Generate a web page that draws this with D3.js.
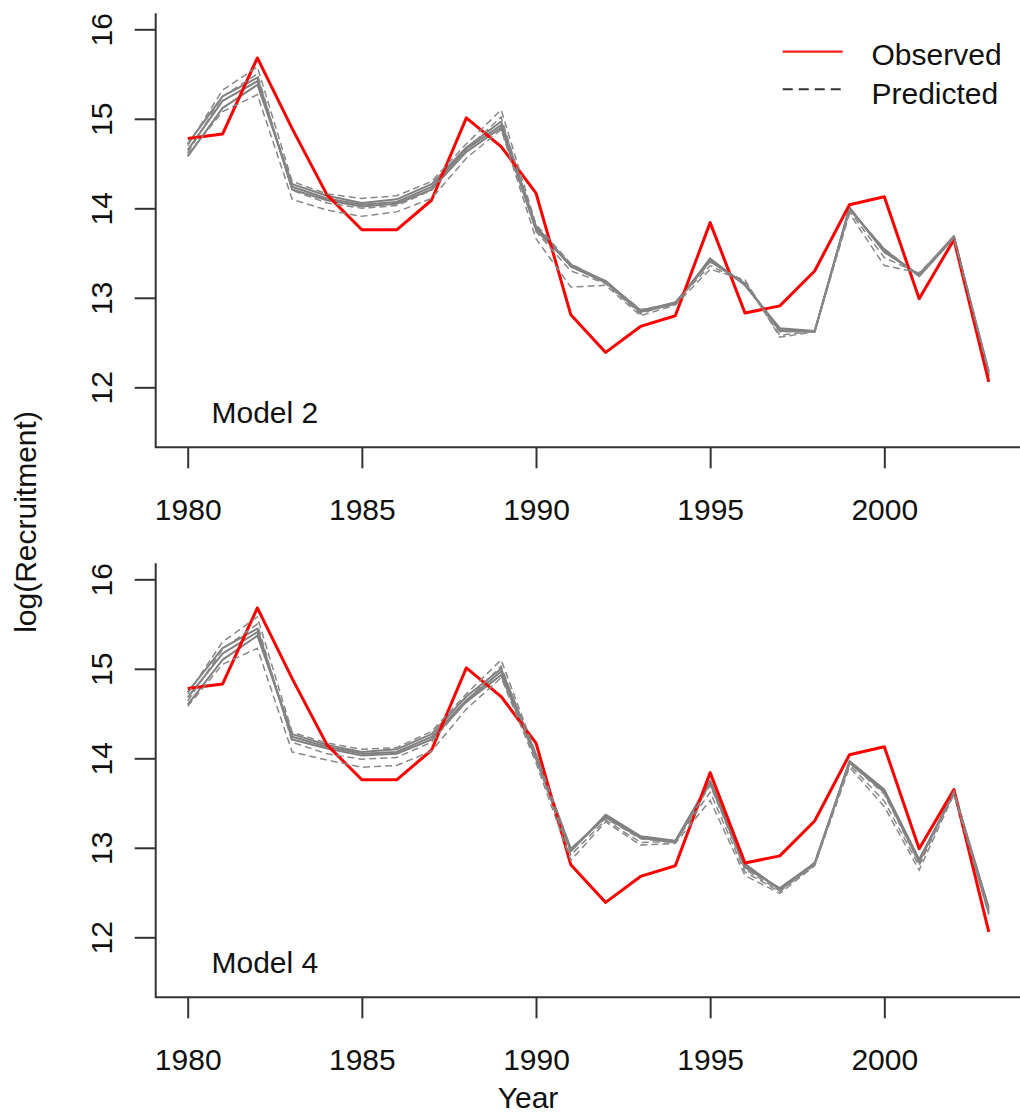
<!DOCTYPE html>
<html>
<head>
<meta charset="utf-8">
<script src="https://cdn.jsdelivr.net/npm/d3@7"></script>
<style>
  html, body { margin: 0; padding: 0; background: #fff; }
  svg { display: block; }
  text { font-family: "Liberation Sans", Arial, sans-serif; fill: #111; }
</style>
</head>
<body>
<svg id="chart" width="1020" height="1116"></svg>
<script>
// Years of recruitment and axis ticks
const years = d3.range(1980, 2004);
const xTickValues = [1980, 1985, 1990, 1995, 2000];
const yTickValues = [12, 13, 14, 15, 16];

// Observed log(recruitment)
const observed = [14.78, 14.83, 15.68, 14.89, 14.15, 13.76, 13.76, 14.09, 15.01, 14.69, 14.17, 12.81,
                  12.39, 12.68, 12.80, 13.84, 12.83, 12.91, 13.30, 14.04, 14.13, 12.99, 13.65, 12.06];

// Model 2 predictions (solid runs)
const model2SolidA = [14.65, 15.20, 15.42, 14.24, 14.11, 14.04, 14.07, 14.24, 14.66, 14.93, 13.78, 13.37,
                      13.18, 12.86, 12.94, 13.42, 13.16, 12.64, 12.62, 14.00, 13.52, 13.25, 13.68, 12.14];
const model2SolidB = [14.58, 15.12, 15.38, 14.27, 14.14, 14.06, 14.10, 14.27, 14.68, 14.97, 13.80, 13.35,
                      13.17, 12.84, 12.93, 13.44, 13.14, 12.66, 12.63, 13.99, 13.54, 13.24, 13.67, 12.18];
const model2SolidC = [14.72, 15.25, 15.46, 14.21, 14.09, 14.02, 14.05, 14.21, 14.63, 14.90, 13.76, 13.36,
                      13.19, 12.85, 12.95, 13.41, 13.15, 12.63, 12.62, 14.01, 13.51, 13.26, 13.69, 12.12];
// Model 2 predictions (dashed runs)
const model2DashD = [14.70, 15.32, 15.58, 14.30, 14.16, 14.11, 14.14, 14.30, 14.72, 15.10, 13.82, 13.38,
                     13.18, 12.87, 12.93, 13.40, 13.18, 12.62, 12.63, 13.99, 13.55, 13.24, 13.68, 12.15];
const model2DashE = [14.60, 15.08, 15.27, 14.10, 13.98, 13.91, 13.96, 14.11, 14.56, 14.88, 13.66, 13.12,
                     13.14, 12.80, 12.92, 13.32, 13.20, 12.56, 12.62, 13.94, 13.36, 13.28, 13.66, 12.16];
const model2DashF = [14.62, 15.25, 15.50, 14.20, 14.06, 14.00, 14.03, 14.20, 14.66, 15.02, 13.74, 13.30,
                     13.16, 12.82, 12.95, 13.36, 13.17, 12.58, 12.63, 13.97, 13.45, 13.27, 13.67, 12.18];

// Model 4 predictions (solid runs)
const model4SolidA = [14.68, 15.17, 15.41, 14.24, 14.13, 14.05, 14.07, 14.24, 14.65, 14.97, 14.02, 12.97,
                      13.36, 13.12, 13.07, 13.74, 12.80, 12.54, 12.82, 13.96, 13.64, 12.86, 13.62, 12.30];
const model4SolidB = [14.60, 15.10, 15.37, 14.27, 14.15, 14.07, 14.10, 14.27, 14.69, 15.00, 14.04, 12.99,
                      13.34, 13.11, 13.06, 13.72, 12.78, 12.55, 12.83, 13.95, 13.62, 12.84, 13.63, 12.33];
const model4SolidC = [14.74, 15.23, 15.45, 14.21, 14.11, 14.03, 14.05, 14.21, 14.63, 14.93, 14.00, 12.96,
                      13.37, 13.13, 13.08, 13.75, 12.82, 12.53, 12.81, 13.97, 13.65, 12.87, 13.61, 12.27];
// Model 4 predictions (dashed runs)
const model4DashD = [14.72, 15.30, 15.58, 14.29, 14.17, 14.10, 14.12, 14.30, 14.72, 15.10, 14.05, 12.98,
                     13.33, 13.10, 13.06, 13.70, 12.76, 12.52, 12.84, 13.95, 13.60, 12.83, 13.63, 12.32];
const model4DashE = [14.58, 15.05, 15.23, 14.07, 13.98, 13.90, 13.92, 14.08, 14.55, 14.90, 13.95, 12.86,
                     13.29, 13.03, 13.05, 13.53, 12.69, 12.49, 12.80, 13.90, 13.46, 12.75, 13.60, 12.25];
const model4DashF = [14.64, 15.22, 15.50, 14.18, 14.05, 13.99, 14.01, 14.18, 14.64, 15.03, 13.99, 12.92,
                     13.31, 13.06, 13.07, 13.62, 12.73, 12.51, 12.82, 13.93, 13.52, 12.80, 13.62, 12.28];

const panels = [
  { label: "Model 2", solid: [model2SolidA, model2SolidB, model2SolidC], dashed: [model2DashD, model2DashE, model2DashF] },
  { label: "Model 4", solid: [model4SolidA, model4SolidB, model4SolidC], dashed: [model4DashD, model4DashE, model4DashF] }
];

const svg = d3.select("#chart");
const frameLeft = 155.7, frameRight = 1020;
const panelTop = [13.3, 563.3], panelBottom = [447.3, 997.3];
const x = d3.scaleLinear().domain([1980, 2003]).range([187.7, 988.8]);
const axisColor = "#333";
const fontSize = 30;

panels.forEach((p, i) => {
  const off = i * 550;
  const y = d3.scaleLinear().domain([12, 16]).range([387.3 + off, 29.3 + off]);
  const g = svg.append("g");

  const line = d3.line().x((d, k) => x(years[k])).y(d => y(d));

  // predicted runs, solid
  p.solid.forEach(s => {
    g.append("path").datum(s).attr("d", line)
      .attr("fill", "none").attr("stroke", "#808080").attr("stroke-width", 2)
      .attr("stroke-linejoin", "round");
  });
  // observed series
  g.append("path").datum(observed).attr("d", line)
    .attr("fill", "none").attr("stroke", "#ff0000").attr("stroke-width", 3)
    .attr("stroke-linejoin", "round");
  // predicted runs, dashed
  p.dashed.forEach(s => {
    g.append("path").datum(s).attr("d", line)
      .attr("fill", "none").attr("stroke", "#888").attr("stroke-width", 1.5)
      .attr("stroke-dasharray", "7,4");
  });

  // L-shaped frame
  g.append("path")
    .attr("d", `M${frameLeft},${panelTop[i]}V${panelBottom[i]}H${frameRight}`)
    .attr("fill", "none").attr("stroke", axisColor).attr("stroke-width", 2);

  // x axis
  const xAxis = g.append("g").attr("transform", `translate(0,${panelBottom[i]})`)
    .call(d3.axisBottom(x).tickValues(xTickValues).tickFormat(d3.format("d")).tickSize(21).tickPadding(0));
  xAxis.select(".domain").remove();
  xAxis.selectAll(".tick line").attr("stroke", axisColor).attr("stroke-width", 2);
  xAxis.selectAll(".tick text").attr("y", 72.7).attr("dy", null)
    .style("font-size", fontSize + "px").style("font-family", '"Liberation Sans", Arial, sans-serif')
    .attr("fill", "#111");

  // y axis
  const yAxis = g.append("g").attr("transform", `translate(${frameLeft},0)`)
    .call(d3.axisLeft(y).tickValues(yTickValues).tickFormat(d3.format("d")).tickSize(21));
  yAxis.select(".domain").remove();
  yAxis.selectAll(".tick line").attr("stroke", axisColor).attr("stroke-width", 2);
  yAxis.selectAll(".tick text")
    .attr("x", null).attr("dy", null)
    .attr("text-anchor", "middle")
    .attr("transform", "translate(-43.7,0) rotate(-90)")
    .style("font-size", fontSize + "px").style("font-family", '"Liberation Sans", Arial, sans-serif')
    .attr("fill", "#111");

  // panel label
  g.append("text").attr("x", 211.5).attr("y", 422.5 + off)
    .style("font-size", fontSize + "px").text(p.label);
});

// legend
const legend = svg.append("g");
legend.append("line").attr("x1", 782.7).attr("x2", 842.7).attr("y1", 51.7).attr("y2", 51.7)
  .attr("stroke", "#ff2020").attr("stroke-width", 2.2);
legend.append("line").attr("x1", 782.7).attr("x2", 842.7).attr("y1", 89.3).attr("y2", 89.3)
  .attr("stroke", "#333").attr("stroke-width", 2).attr("stroke-dasharray", "10,6");
legend.append("text").attr("x", 871.5).attr("y", 65).style("font-size", fontSize + "px").text("Observed");
legend.append("text").attr("x", 871.5).attr("y", 103.5).style("font-size", fontSize + "px").text("Predicted");

// axis titles
svg.append("text").attr("x", 528).attr("y", 1108).attr("text-anchor", "middle")
  .style("font-size", fontSize + "px").text("Year");
svg.append("text").attr("transform", "translate(36,522) rotate(-90)").attr("text-anchor", "middle")
  .style("font-size", fontSize + "px").text("log(Recruitment)");
</script>
</body>
</html>
